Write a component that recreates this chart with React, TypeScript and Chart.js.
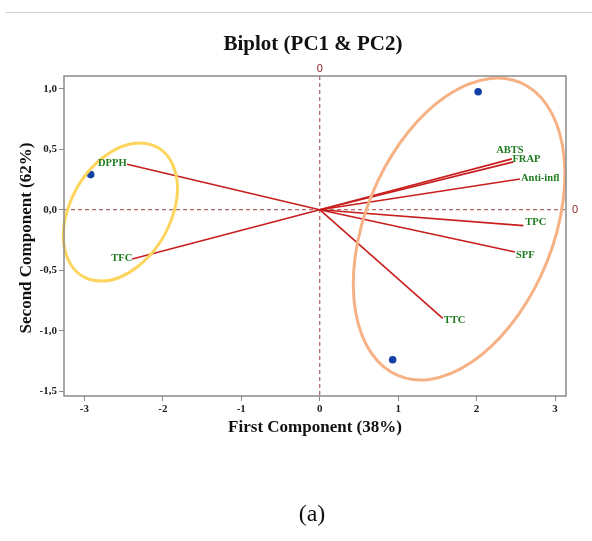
import React, { useEffect, useRef } from "react";
import { Chart, registerables } from "chart.js";

Chart.register(...registerables);

// ---- Data ----
const VARIABLES = ["DPPH", "TFC", "ABTS", "FRAP", "Anti-infl", "TPC", "SPF", "TTC"];
const LOADING_PC1 = [-2.456, -2.39, 2.45, 2.47, 2.554, 2.596, 2.49, 1.569];
const LOADING_PC2 = [0.375, -0.407, 0.42, 0.395, 0.254, -0.132, -0.35, -0.898];

const SCORE_PC1 = [-2.92, 2.02, 0.93];
const SCORE_PC2 = [0.29, 0.975, -1.24];

const X_TICKS = [-3, -2, -1, 0, 1, 2, 3];
const X_TICK_LABELS = ["-3", "-2", "-1", "0", "1", "2", "3"];
const Y_TICKS = [-1.5, -1, -0.5, 0, 0.5, 1];
const Y_TICK_LABELS = ["-1,5", "-1,0", "-0,5", "0,0", "0,5", "1,0"];

// group ellipses (data units, angle in degrees in data space)
const ELLIPSE_CX = [-2.541, 1.777];
const ELLIPSE_CY = [-0.019, -0.16];
const ELLIPSE_RX = [0.775, 1.521];
const ELLIPSE_RY = [0.502, 1.031];
const ELLIPSE_ANGLE = [27.3, 38.95];

const TITLE = "Biplot (PC1 & PC2)";
const X_TITLE = "First Component (38%)";
const Y_TITLE = "Second Component (62%)";
const PANEL = "(a)";

// ---- Styles ----
const ELLIPSE_COLORS = ["#fdd55e", "#f6b185"];
const LABEL_PLACEMENT: { align: CanvasTextAlign; dx: number; dy: number }[] = [
  { align: "right", dx: -0.5, dy: -1 },
  { align: "right", dx: 0, dy: -1 },
  { align: "center", dx: -2, dy: -9 },
  { align: "left", dx: -1, dy: -3 },
  { align: "left", dx: 1, dy: -1 },
  { align: "left", dx: 2, dy: -3 },
  { align: "left", dx: 1, dy: 3 },
  { align: "left", dx: 1, dy: 2 },
];
const SERIF = '"Liberation Serif", "Times New Roman", serif';
const LINE_RED = "#c81e1e";
const LABEL_GREEN = "#1d7a1d";
const ZERO_COLOR = "#b06a6a";
const ZERO_TEXT = "#8b1c1c";
const FRAME = "#8a8a8a";

const biplotPlugin = {
  id: "biplotDecor",
  beforeDatasetsDraw(chart: any) {
    const { ctx, chartArea: a, scales } = chart;
    const x0 = scales.x.getPixelForValue(0);
    const y0 = scales.y.getPixelForValue(0);
    ctx.save();
    ctx.strokeStyle = ZERO_COLOR;
    ctx.lineWidth = 1.3;
    ctx.setLineDash([4, 3]);
    ctx.beginPath();
    ctx.moveTo(x0, a.top);
    ctx.lineTo(x0, a.bottom);
    ctx.moveTo(a.left, y0);
    ctx.lineTo(a.right, y0);
    ctx.stroke();
    ctx.restore();
  },
  afterDatasetsDraw(chart: any) {
    const { ctx, chartArea: a, scales } = chart;
    const xs = scales.x;
    const ys = scales.y;
    const ux = xs.getPixelForValue(1) - xs.getPixelForValue(0);
    const uy = ys.getPixelForValue(0) - ys.getPixelForValue(1);

    // ellipses
    for (let i = 0; i < ELLIPSE_CX.length; i++) {
      ctx.save();
      ctx.beginPath();
      ctx.translate(xs.getPixelForValue(ELLIPSE_CX[i]), ys.getPixelForValue(ELLIPSE_CY[i]));
      ctx.scale(ux, -uy);
      ctx.rotate((ELLIPSE_ANGLE[i] * Math.PI) / 180);
      ctx.ellipse(0, 0, ELLIPSE_RX[i], ELLIPSE_RY[i], 0, 0, Math.PI * 2);
      ctx.restore();
      ctx.save();
      ctx.strokeStyle = ELLIPSE_COLORS[i];
      ctx.lineWidth = 3;
      ctx.stroke();
      ctx.restore();
    }

    // variable labels
    ctx.save();
    ctx.font = `bold 10.5px ${SERIF}`;
    ctx.fillStyle = LABEL_GREEN;
    ctx.textBaseline = "middle";
    VARIABLES.forEach((name, i) => {
      const meta = chart.getDatasetMeta(i);
      const end = meta.data[1];
      const p = LABEL_PLACEMENT[i];
      ctx.textAlign = p.align;
      ctx.fillText(name, end.x + p.dx, end.y + p.dy);
    });
    ctx.restore();

    // frame
    ctx.save();
    ctx.strokeStyle = FRAME;
    ctx.lineWidth = 1.5;
    ctx.strokeRect(a.left, a.top, a.right - a.left, a.bottom - a.top);
    ctx.restore();

    // zero labels
    const x0 = xs.getPixelForValue(0);
    const y0 = ys.getPixelForValue(0);
    ctx.save();
    ctx.font = '11px "Liberation Sans", Arial, sans-serif';
    ctx.fillStyle = ZERO_TEXT;
    ctx.textBaseline = "middle";
    ctx.textAlign = "center";
    ctx.fillText(X_TICK_LABELS[3], x0, a.top - 7);
    ctx.textAlign = "left";
    ctx.fillText(X_TICK_LABELS[3], a.right + 6, y0);
    ctx.restore();
  },
  afterDraw(chart: any) {
    const { ctx, chartArea: a } = chart;
    const cx = (a.left + a.right) / 2;
    ctx.save();
    ctx.fillStyle = "#111";
    ctx.textAlign = "center";
    ctx.textBaseline = "middle";
    ctx.font = `bold 21px ${SERIF}`;
    ctx.fillText(TITLE, cx - 2, 45);
    ctx.font = `bold 17px ${SERIF}`;
    ctx.fillText(X_TITLE, cx, 428);
    ctx.save();
    ctx.translate(27, (a.top + a.bottom) / 2 + 2);
    ctx.rotate(-Math.PI / 2);
    ctx.fillText(Y_TITLE, 0, 0);
    ctx.restore();
    ctx.font = `24px ${SERIF}`;
    ctx.fillText(PANEL, cx - 3, 515);
    ctx.restore();
  },
};

export default function App() {
  const ref = useRef<HTMLCanvasElement | null>(null);

  useEffect(() => {
    if (!ref.current) return;
    const loadingSets = VARIABLES.map((name, i) => ({
      label: name,
      data: [
        { x: 0, y: 0 },
        { x: LOADING_PC1[i], y: LOADING_PC2[i] },
      ],
      showLine: true,
      borderColor: LINE_RED,
      borderWidth: 1.6,
      pointRadius: 0,
      fill: false,
    }));
    const scoreSet = {
      label: "scores",
      data: SCORE_PC1.map((x, i) => ({ x, y: SCORE_PC2[i] })),
      showLine: false,
      pointRadius: 3.8,
      pointBackgroundColor: "#1140a6",
      pointBorderColor: "#1140a6",
      pointBorderWidth: 0,
    };

    const chart = new Chart(ref.current, {
      type: "scatter",
      data: { datasets: [...loadingSets, scoreSet] as any },
      options: {
        animation: false,
        responsive: false,
        events: [],
        layout: { padding: { top: 76, right: 26, left: 0, bottom: 0 } },
        plugins: { legend: { display: false }, tooltip: { enabled: false }, title: { display: false } },
        scales: {
          x: {
            type: "linear",
            min: -3.26,
            max: 3.14,
            afterFit: (s: any) => {
              s.height = 145;
            },
            afterBuildTicks: (s: any) => {
              s.ticks = X_TICKS.map((v) => ({ value: v }));
            },
            ticks: {
              autoSkip: false,
              maxRotation: 0,
              padding: 2,
              color: "#222",
              font: { family: SERIF, size: 11, weight: "bold" },
              callback: (_v: any, i: number) => X_TICK_LABELS[i],
            },
            grid: { drawOnChartArea: false, tickLength: 5, color: FRAME, lineWidth: 1 },
            border: { display: false },
          },
          y: {
            type: "linear",
            min: -1.54,
            max: 1.105,
            afterFit: (s: any) => {
              s.width = 64;
            },
            afterBuildTicks: (s: any) => {
              s.ticks = Y_TICKS.map((v) => ({ value: v }));
            },
            ticks: {
              autoSkip: false,
              padding: 2,
              color: "#222",
              font: { family: SERIF, size: 11, weight: "bold" },
              callback: (_v: any, i: number) => Y_TICK_LABELS[i],
            },
            grid: { drawOnChartArea: false, tickLength: 5, color: FRAME, lineWidth: 1 },
            border: { display: false },
          },
        },
      } as any,
      plugins: [biplotPlugin],
    });
    return () => chart.destroy();
  }, []);

  return (
    <div style={{ position: "fixed", left: 0, top: 0, width: 592, height: 541, background: "#fff" }}>
      <div style={{ position: "absolute", left: 6, top: 12, width: 586, height: 1, background: "#cfcfcf" }} />
      <canvas ref={ref} width={592} height={541} style={{ display: "block" }} />
    </div>
  );
}
